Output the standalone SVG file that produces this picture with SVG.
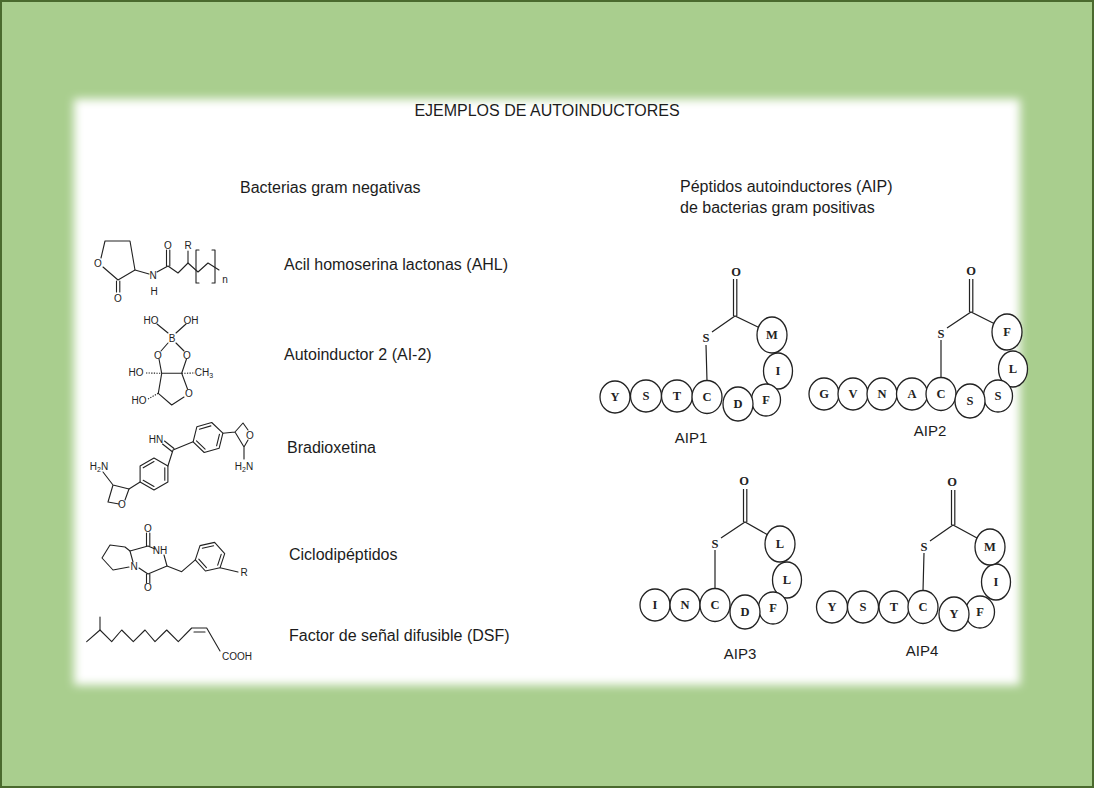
<svg xmlns="http://www.w3.org/2000/svg" width="1094" height="788" viewBox="0 0 1094 788">
<defs>
<filter id="soft" x="-5%" y="-5%" width="110%" height="110%"><feGaussianBlur stdDeviation="5"/></filter>
<style>
.t{font-family:"Liberation Sans",Arial,sans-serif;font-size:16px;fill:#1c1c1c}
.lab{font-family:"Liberation Sans",Arial,sans-serif;font-size:15px;fill:#1c1c1c;text-anchor:middle}
.at{font-family:"Liberation Sans",Arial,sans-serif;font-size:10px;fill:#222;text-anchor:middle}
.b{stroke:#222;stroke-width:1.1;fill:none;stroke-linecap:round;stroke-linejoin:round}
.h{stroke:#222;stroke-width:1.1;fill:none;stroke-dasharray:1.3 1.3}
.res{fill:#fff;stroke:#222;stroke-width:1.3}
.aa{font-family:"Liberation Serif","Times New Roman",serif;font-weight:bold;font-size:12.5px;fill:#222;text-anchor:middle}
.bd{stroke:#222;stroke-width:1.2;fill:none}
</style>
</defs>

<g id="background">
<rect x="1" y="1" width="1092" height="786" fill="#a9ce8e" stroke="#4a6a2e" stroke-width="2"/>
<rect x="74" y="99" width="946" height="586" fill="#ffffff" filter="url(#soft)"/>
</g>

<g id="title">
<text class="t" x="547" y="116" text-anchor="middle">EJEMPLOS DE AUTOINDUCTORES</text>
</g>

<g id="gram-negativas">
<text class="t" x="240" y="193">Bacterias gram negativas</text>

<g id="ahl">
<path class="b" d="M101,258 L105,241 L130,241 L135,270 L118,280 L103,267"/>
<path class="b" d="M116.5,281 V292 M119.8,281 V292"/>
<path class="b" d="M135,270 L149,274"/>
<path class="b" d="M157,272 L168,266 L178,273 L188,263 L198,272 L208,263 L219,270"/>
<path class="b" d="M166.5,266 V250 M169.8,266 V250"/>
<path class="b" d="M188,263 V251"/>
<path class="b" d="M199,250 H196 V283 H199 M212,250 H215 V283 H212"/>
<text class="at" x="98" y="267">O</text>
<text class="at" x="118" y="302">O</text>
<text class="at" x="153" y="279">N</text>
<text class="at" x="154" y="295">H</text>
<text class="at" x="168" y="249">O</text>
<text class="at" x="188" y="249">R</text>
<text class="at" x="225" y="283" font-size="9">n</text>
<text class="t" x="284" y="270">Acil homoserina lactonas (AHL)</text>
</g>

<g id="ai2">
<path class="b" d="M157,324 L168,333 M186,324 L176,333 M168,343 L161,351 M176,343 L184,351 M159,359 L161.7,373.3 M186.5,359 L181.7,373.3 M161.7,373.3 L181.7,373.3 M161.7,373.3 L158.3,393.3 L171.7,405 L184,397 M187.5,389 L181.7,373.3"/>
<path class="h" d="M146,373 L161.7,373.3 M181.7,373.3 L195,373 M148,399 L158.3,393.3"/>
<text class="at" x="151" y="324">HO</text>
<text class="at" x="191" y="324">OH</text>
<text class="at" x="172" y="342">B</text>
<text class="at" x="158" y="359">O</text>
<text class="at" x="187" y="359">O</text>
<text class="at" x="136" y="376">HO</text>
<text class="at" x="204" y="376">CH<tspan font-size="7" dy="2">3</tspan></text>
<text class="at" x="139" y="404">HO</text>
<text class="at" x="189" y="397">O</text>
<text class="t" x="284" y="360">Autoinductor 2 (AI-2)</text>
</g>

<g id="bradioxetina">
<path class="b" d="M103,472 L113,485 L129,489 L125,500 M119,504 L108,502 L113,485"/>
<path class="b" d="M129,489 L140.1,482"/>
<path class="b" d="M140.1,482 L140.1,466 L154,458 L167.9,466 L167.9,482 L154,490 Z"/>
<path class="b" d="M143.2,467.8 L154,461.5 M164.8,467.8 L164.8,480.3 M154,486.5 L143.2,480.3"/>
<path class="b" d="M167.9,466 L173,450 L193.1,441.8"/>
<path class="b" d="M172,451.5 L162.5,444 M174,448.5 L164.5,441"/>
<path class="b" d="M193.1,441.8 L196.9,426.7 L211.7,422.5 L222.9,433.2 L219.1,448.3 L204.2,452.5 Z"/>
<path class="b" d="M199.4,429.2 L210.9,425.9 M219.5,434.2 L216.6,445.8 M205.1,449.1 L196.5,440.8"/>
<path class="b" d="M222.9,433.2 L235,432 L243,423 L248,430 M248,440 L244,447 L235,432 M244,447 V459"/>
<text class="at" x="156" y="443">HN</text>
<text class="at" x="99" y="470">H<tspan font-size="7" dy="2">2</tspan><tspan dy="-2">N</tspan></text>
<text class="at" x="122" y="508">O</text>
<text class="at" x="250" y="439">O</text>
<text class="at" x="244" y="470">H<tspan font-size="7" dy="2">2</tspan><tspan dy="-2">N</tspan></text>
<text class="t" x="287" y="453">Bradioxetina</text>
</g>

<g id="ciclodipeptidos">
<path class="b" d="M129,567 L113,570 L102,558 L110,545 L125,547 L130,551 L133,562"/>
<path class="b" d="M130,551 L148,546 L155,549 M164,555 L167,566 L148,574 L139,568"/>
<path class="b" d="M146.5,546 V533 M149.8,546 V533 M146.5,574 V583 M149.8,574 V583"/>
<path class="b" d="M167,566 L181.7,571.7 L195.3,559.8"/>
<path class="b" d="M195.3,559.8 L200,545.6 L214.6,542.4 L224.7,553.6 L220,567.8 L205.4,571 Z"/>
<path class="b" d="M202.3,548.2 L213.6,545.8 M221.2,554.3 L217.7,565.2 M206.4,567.6 L198.8,559.1"/>
<path class="b" d="M220,567.8 L238,572"/>
<text class="at" x="134" y="570">N</text>
<text class="at" x="148" y="532">O</text>
<text class="at" x="160" y="554">NH</text>
<text class="at" x="148" y="591">O</text>
<text class="at" x="244" y="576">R</text>
<text class="t" x="289" y="560">Ciclodipéptidos</text>
</g>

<g id="dsf">
<path class="b" d="M86.7,641.7 L100,630 L111.7,641.7 L121.7,630 L133.3,641.7 L145,630 L155,641.7 L166.7,630 L178.3,641.7 L191.7,628 L206.7,628 L220,651"/>
<path class="b" d="M100,630 V617"/>
<path class="b" d="M194,632 L205,632"/>
<text class="at" x="237" y="660" font-size="9">COOH</text>
<text class="t" x="289" y="641">Factor de señal difusible (DSF)</text>
</g>
</g>

<g id="gram-positivas">
<text class="t" x="680" y="192">Péptidos autoinductores (AIP)</text>
<text class="t" x="680" y="213">de bacterias gram positivas</text>
</g>

<g id="connectors">
<path class="bd" d="M706,345 L707,381 M712,332 L735,316 L760,328 M733.5,316 V279 M736.8,316 V279"/>
<path class="bd" d="M941,340 L941,378 M947,328 L971,312 L995,324 M969.5,312 V279 M972.8,312 V279"/>
<path class="bd" d="M715,550 L715,589 M721,538 L745,522 L768,535 M743.5,522 V489 M746.8,522 V489"/>
<path class="bd" d="M924,553 L923,591 M930,541 L953,525 L977,538 M951.5,525 V490 M954.8,525 V490"/>
</g>

<g id="aip1">
<ellipse class="res" cx="615" cy="397" rx="15" ry="16"/>
<ellipse class="res" cx="646" cy="396" rx="15.5" ry="16"/>
<ellipse class="res" cx="677" cy="396" rx="15.5" ry="16"/>
<ellipse class="res" cx="707" cy="397" rx="15" ry="16.5"/>
<ellipse class="res" cx="778" cy="371" rx="14.5" ry="18"/>
<ellipse class="res" cx="772" cy="335" rx="15" ry="18"/>
<ellipse class="res" cx="766" cy="400" rx="14.5" ry="16"/>
<ellipse class="res" cx="738" cy="404" rx="15" ry="17"/>
<text class="aa" x="615" y="401">Y</text>
<text class="aa" x="646" y="400">S</text>
<text class="aa" x="677" y="400">T</text>
<text class="aa" x="707" y="401">C</text>
<text class="aa" x="738" y="408">D</text>
<text class="aa" x="766" y="404">F</text>
<text class="aa" x="778" y="375">I</text>
<text class="aa" x="772" y="339">M</text>
<text class="aa" x="706" y="342">S</text>
<text class="aa" x="736" y="276">O</text>
<text class="lab" x="691" y="443">AIP1</text>
</g>

<g id="aip2">
<ellipse class="res" cx="824" cy="394" rx="15" ry="16"/>
<ellipse class="res" cx="853" cy="394" rx="15" ry="16"/>
<ellipse class="res" cx="882" cy="394" rx="15" ry="16"/>
<ellipse class="res" cx="912" cy="394" rx="15.5" ry="16"/>
<ellipse class="res" cx="941" cy="394" rx="15" ry="16.5"/>
<ellipse class="res" cx="1013" cy="369" rx="14.5" ry="18"/>
<ellipse class="res" cx="1007" cy="332" rx="15" ry="18"/>
<ellipse class="res" cx="998" cy="396" rx="14.5" ry="16"/>
<ellipse class="res" cx="970" cy="401" rx="15" ry="17"/>
<text class="aa" x="824" y="398">G</text>
<text class="aa" x="853" y="398">V</text>
<text class="aa" x="882" y="398">N</text>
<text class="aa" x="912" y="398">A</text>
<text class="aa" x="941" y="398">C</text>
<text class="aa" x="970" y="405">S</text>
<text class="aa" x="998" y="400">S</text>
<text class="aa" x="1013" y="373">L</text>
<text class="aa" x="1007" y="336">F</text>
<text class="aa" x="941" y="338">S</text>
<text class="aa" x="971" y="275">O</text>
<text class="lab" x="930" y="436">AIP2</text>
</g>

<g id="aip3">
<ellipse class="res" cx="655" cy="605" rx="15" ry="16"/>
<ellipse class="res" cx="685" cy="605" rx="15" ry="16"/>
<ellipse class="res" cx="715" cy="605" rx="15" ry="16.5"/>
<ellipse class="res" cx="787" cy="580" rx="14.5" ry="18"/>
<ellipse class="res" cx="780" cy="544" rx="15" ry="18"/>
<ellipse class="res" cx="773" cy="608" rx="14.5" ry="16"/>
<ellipse class="res" cx="745" cy="612" rx="15" ry="17"/>
<text class="aa" x="655" y="609">I</text>
<text class="aa" x="685" y="609">N</text>
<text class="aa" x="715" y="609">C</text>
<text class="aa" x="745" y="616">D</text>
<text class="aa" x="773" y="612">F</text>
<text class="aa" x="787" y="584">L</text>
<text class="aa" x="780" y="548">L</text>
<text class="aa" x="715" y="548">S</text>
<text class="aa" x="744" y="485">O</text>
<text class="lab" x="740" y="659">AIP3</text>
</g>

<g id="aip4">
<ellipse class="res" cx="832" cy="607" rx="15.5" ry="16"/>
<ellipse class="res" cx="863" cy="607" rx="15.5" ry="16"/>
<ellipse class="res" cx="894" cy="607" rx="15" ry="16"/>
<ellipse class="res" cx="923" cy="607" rx="15" ry="16.5"/>
<ellipse class="res" cx="996" cy="582" rx="14.5" ry="18"/>
<ellipse class="res" cx="990" cy="547" rx="15" ry="18"/>
<ellipse class="res" cx="980" cy="612" rx="14.5" ry="16"/>
<ellipse class="res" cx="954" cy="614" rx="15" ry="17"/>
<text class="aa" x="832" y="611">Y</text>
<text class="aa" x="863" y="611">S</text>
<text class="aa" x="894" y="611">T</text>
<text class="aa" x="923" y="611">C</text>
<text class="aa" x="954" y="618">Y</text>
<text class="aa" x="980" y="616">F</text>
<text class="aa" x="996" y="586">I</text>
<text class="aa" x="990" y="551">M</text>
<text class="aa" x="924" y="551">S</text>
<text class="aa" x="952" y="486">O</text>
<text class="lab" x="922" y="656">AIP4</text>
</g>
</svg>
